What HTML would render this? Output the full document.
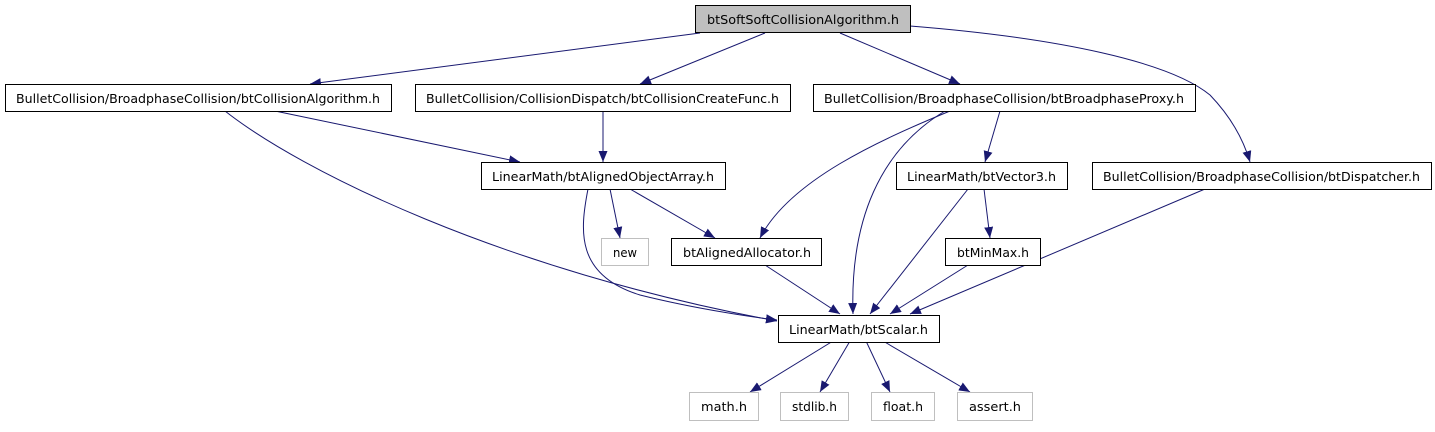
<!DOCTYPE html>
<html><head><meta charset="utf-8"><style>
body{margin:0;background:#fff;width:1435px;height:427px;overflow:hidden}
svg text{font-family:"DejaVu Sans","Liberation Sans",sans-serif;font-size:12.6px;fill:#000}
</style></head><body>
<svg width="1435" height="427" viewBox="0 0 1435 427" xmlns="http://www.w3.org/2000/svg">
<defs><marker id="a" markerWidth="12" markerHeight="10" refX="11" refY="4.5" orient="auto" markerUnits="userSpaceOnUse"><polygon points="0,0 11,4.5 0,9" fill="#191970"/></marker></defs>
<g fill="none" stroke="#191970" stroke-width="1" marker-end="url(#a)">
<path d="M700,33 L310,84"/>
<path d="M765,33 L640,84"/>
<path d="M840,33 L960,84"/>
<path d="M910,26 C1060,38 1170,62 1210,95 C1234,120 1245,145 1250,162"/>
<path d="M275,111 L520,162"/>
<path d="M225,111 C300,170 500,270 777,321"/>
<path d="M603,111 L603,162"/>
<path d="M588,189 C580,230 575,275 640,295 C700,310 760,318 777,320"/>
<path d="M610,189 L620,238"/>
<path d="M630,189 L715,238"/>
<path d="M950,111 C880,140 790,180 760,238"/>
<path d="M945,111 C880,150 850,220 853,314"/>
<path d="M1000,111 L985,162"/>
<path d="M968,189 L870,314"/>
<path d="M984,189 L990,238"/>
<path d="M765,265 L840,314"/>
<path d="M968,265 L890,314"/>
<path d="M1205,189 L910,314"/>
<path d="M833,341 L750,392"/>
<path d="M850,341 L820,392"/>
<path d="M866,341 L890,392"/>
<path d="M883,341 L970,392"/>
</g>
<g stroke-width="1">
<rect x="695.5" y="5.5" width="215" height="27" fill="#bfbfbf" stroke="#000"/>
<rect x="5.5" y="84.5" width="386" height="27" fill="#fff" stroke="#000"/>
<rect x="415.5" y="84.5" width="375" height="27" fill="#fff" stroke="#000"/>
<rect x="813.5" y="84.5" width="382" height="27" fill="#fff" stroke="#000"/>
<rect x="481.5" y="162.5" width="244" height="27" fill="#fff" stroke="#000"/>
<rect x="896.5" y="162.5" width="171" height="27" fill="#fff" stroke="#000"/>
<rect x="1092.5" y="162.5" width="339" height="27" fill="#fff" stroke="#000"/>
<rect x="601.5" y="238.5" width="47" height="27" fill="#fff" stroke="#bfbfbf"/>
<rect x="671.5" y="238.5" width="150" height="27" fill="#fff" stroke="#000"/>
<rect x="945.5" y="238.5" width="95" height="27" fill="#fff" stroke="#000"/>
<rect x="778.5" y="315.5" width="161" height="27" fill="#fff" stroke="#000"/>
<rect x="689.5" y="392.5" width="69" height="28" fill="#fff" stroke="#bfbfbf"/>
<rect x="780.5" y="392.5" width="68" height="28" fill="#fff" stroke="#bfbfbf"/>
<rect x="871.5" y="392.5" width="63" height="28" fill="#fff" stroke="#bfbfbf"/>
<rect x="957.5" y="392.5" width="75" height="28" fill="#fff" stroke="#bfbfbf"/>
</g>
<g>
<text x="707" y="24" textLength="192" lengthAdjust="spacingAndGlyphs">btSoftSoftCollisionAlgorithm.h</text>
<text x="16" y="103" textLength="364" lengthAdjust="spacingAndGlyphs">BulletCollision/BroadphaseCollision/btCollisionAlgorithm.h</text>
<text x="426" y="103" textLength="353" lengthAdjust="spacingAndGlyphs">BulletCollision/CollisionDispatch/btCollisionCreateFunc.h</text>
<text x="824" y="103" textLength="360" lengthAdjust="spacingAndGlyphs">BulletCollision/BroadphaseCollision/btBroadphaseProxy.h</text>
<text x="492" y="181" textLength="222" lengthAdjust="spacingAndGlyphs">LinearMath/btAlignedObjectArray.h</text>
<text x="907" y="181" textLength="149" lengthAdjust="spacingAndGlyphs">LinearMath/btVector3.h</text>
<text x="1103" y="181" textLength="317" lengthAdjust="spacingAndGlyphs">BulletCollision/BroadphaseCollision/btDispatcher.h</text>
<text x="613" y="257" textLength="24" lengthAdjust="spacingAndGlyphs">new</text>
<text x="683" y="257" textLength="128" lengthAdjust="spacingAndGlyphs">btAlignedAllocator.h</text>
<text x="957" y="257" textLength="72" lengthAdjust="spacingAndGlyphs">btMinMax.h</text>
<text x="789" y="334" textLength="139" lengthAdjust="spacingAndGlyphs">LinearMath/btScalar.h</text>
<text x="701" y="411" textLength="46" lengthAdjust="spacingAndGlyphs">math.h</text>
<text x="792" y="411" textLength="45" lengthAdjust="spacingAndGlyphs">stdlib.h</text>
<text x="883" y="411" textLength="40" lengthAdjust="spacingAndGlyphs">float.h</text>
<text x="969" y="411" textLength="52" lengthAdjust="spacingAndGlyphs">assert.h</text>
</g>
</svg>
</body></html>
